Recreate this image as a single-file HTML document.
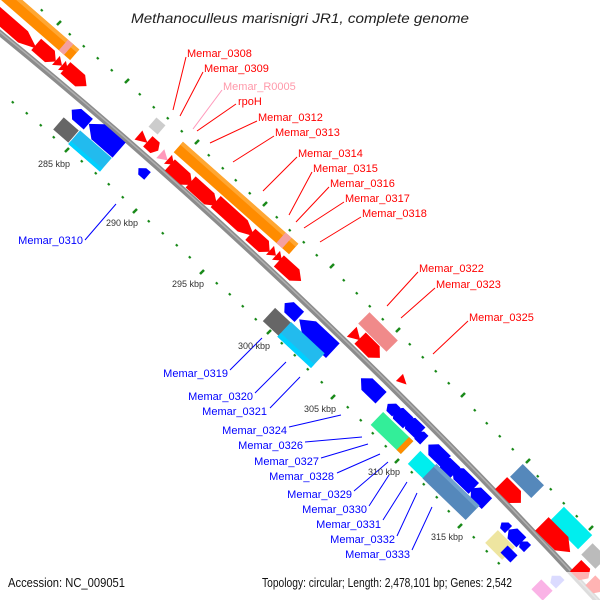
<!DOCTYPE html>
<html><head><meta charset="utf-8"><style>
html,body{margin:0;padding:0;background:#fff;}
svg{display:block;}
.lr{font-family:"Liberation Sans",sans-serif;font-size:11px;fill:#ff0000;}
.lb{font-family:"Liberation Sans",sans-serif;font-size:11px;fill:#0000ff;text-anchor:end;}
.tk{font-family:"Liberation Sans",sans-serif;font-size:9px;fill:#333;text-anchor:middle;}
</style></head><body>
<svg width="600" height="600" viewBox="0 0 600 600" xmlns="http://www.w3.org/2000/svg">
<defs>
<polygon id="a" points="-0.5,-0.5 0.2,-0.5 0.5,0 0.2,0.5 -0.5,0.5"/>
</defs>
<rect width="600" height="600" fill="#fff"/>

<!-- dotted tick rings -->
<g stroke="#1a8a1a" stroke-width="2.5" stroke-linecap="butt">
<path d="M41,11 l1.5,-1.5 M57,25 l4,-4 M69,35 l1.5,-1.5 M83,47 l1.5,-1.5 M97,59 l1.5,-1.5 M111,71 l1.5,-1.5 M125,83 l4,-4 M139,95 l1.5,-1.5 M153,108 l1.5,-1.5 M167,119 l1.5,-1.5 M181,132 l1.5,-1.5 M195,144 l4,-4 M208,156 l1.5,-1.5 M222,169 l1.5,-1.5 M235,181 l1.5,-1.5 M249,194 l1.5,-1.5 M263,206 l4,-4 M276,218 l1.5,-1.5 M289,231 l1.5,-1.5 M303,243 l1.5,-1.5 M316,256 l1.5,-1.5 M330,268 l4,-4 M343,281 l1.5,-1.5 M356,294 l1.5,-1.5 M369,307 l1.5,-1.5 M382,320 l1.5,-1.5 M396,332 l4,-4 M409,345 l1.5,-1.5 M422,358 l1.5,-1.5 M435,372 l1.5,-1.5 M448,384 l1.5,-1.5 M461,397 l4,-4 M474,411 l1.5,-1.5 M486,424 l1.5,-1.5 M499,437 l1.5,-1.5 M512,450 l1.5,-1.5 M526,463 l4,-4 M537,477 l1.5,-1.5 M550,490 l1.5,-1.5 M563,504 l1.5,-1.5 M576,517 l1.5,-1.5 M589,530 l4,-4"/>
<path d="M12,103 l1.5,-1.5 M26,114 l1.5,-1.5 M40,126 l1.5,-1.5 M53,138 l1.5,-1.5 M65,152 l4,-4 M81,162 l1.5,-1.5 M95,174 l1.5,-1.5 M108,185 l1.5,-1.5 M122,198 l1.5,-1.5 M133,213 l4,-4 M148,222 l1.5,-1.5 M162,234 l1.5,-1.5 M176,246 l1.5,-1.5 M189,258 l1.5,-1.5 M200,274 l4,-4 M216,284 l1.5,-1.5 M229,295 l1.5,-1.5 M242,307 l1.5,-1.5 M255,320 l1.5,-1.5 M267,334 l4,-4 M281,344 l1.5,-1.5 M294,356 l1.5,-1.5 M307,370 l1.5,-1.5 M321,383 l1.5,-1.5 M331,399 l4,-4 M347,408 l1.5,-1.5 M360,421 l1.5,-1.5 M372,434 l1.5,-1.5 M385,447 l1.5,-1.5 M395,463 l4,-4 M411,473 l1.5,-1.5 M423,485 l1.5,-1.5 M436,498 l1.5,-1.5 M448,512 l1.5,-1.5 M458,528 l4,-4 M473,538 l1.5,-1.5 M486,552 l1.5,-1.5 M498,564 l1.5,-1.5"/>
</g>

<!-- backbone -->
<path d="M-5,29 Q300,277 604,608" fill="none" stroke="#8c8c8c" stroke-width="6"/>
<path d="M-5,28 Q300,276 604,607" fill="none" stroke="#b0b0b0" stroke-width="1.5"/>

<!-- upper-left features -->
<g transform="translate(37,22) rotate(41)"><rect x="-50" y="-7" width="100" height="14" fill="#ff8c00"/><rect x="-50" y="-7" width="100" height="4" fill="#ffa733"/><rect x="35" y="-7" width="7" height="14" fill="#f4a0a0"/></g>
<g transform="translate(14,29) rotate(41)"><use href="#a" transform="scale(60,15)" fill="#f00"/></g>
<g transform="translate(46,53) rotate(41)"><use href="#a" transform="scale(26,15)" fill="#f00"/></g>
<g transform="translate(59,63) rotate(41)"><polygon points="-4,-6 4,0 -4,6" fill="#f00"/></g>
<g transform="translate(65,68) rotate(41)"><polygon points="-4,-6 4,0 -4,6" fill="#f00"/></g>
<g transform="translate(76,77) rotate(41)"><use href="#a" transform="scale(28,15)" fill="#f00"/></g>

<g transform="translate(80,117) rotate(41)"><use href="#a" transform="scale(-22,14)" fill="#00f"/></g>
<g transform="translate(66,130) rotate(41)"><rect x="-10" y="-8" width="20" height="16" fill="#666"/></g>
<g transform="translate(104,137) rotate(41)"><use href="#a" transform="scale(-40,20)" fill="#00f"/></g>
<g transform="translate(90,151) rotate(41)"><rect x="-21" y="-9" width="42" height="18" fill="#22bbee"/><rect x="-21" y="5" width="42" height="4" fill="#00d0ff"/></g>
<g transform="translate(143,172) rotate(41)"><polygon points="-6,0 0,-5 6,-5 6,5 -2,5" fill="#00f"/></g>

<g transform="translate(157,126) rotate(41)"><rect x="-6" y="-6" width="12" height="12" fill="#ccc"/></g>
<g transform="translate(143,139) rotate(41)"><polygon points="-6,-6 6,0 -6,6" fill="#f00"/></g>
<g transform="translate(153,146) rotate(42)"><use href="#a" transform="scale(14,14)" fill="#f00"/></g>
<g transform="translate(164,157) rotate(42)"><polygon points="-5,-6 5,0 -5,6" fill="#f9b"/></g>
<g transform="translate(171,162) rotate(42)"><polygon points="-4,-6 4,0 -4,6" fill="#f00"/></g>

<!-- middle upper features -->
<g transform="translate(236,198) rotate(41.5)"><rect x="-77" y="-7" width="154" height="14" fill="#ff8c00"/><rect x="-77" y="-7" width="154" height="4" fill="#ffa733"/><rect x="60" y="-7" width="8" height="14" fill="#f4a0a0"/></g>
<g transform="translate(181,175) rotate(42)"><use href="#a" transform="scale(30,15)" fill="#f00"/></g>
<g transform="translate(204,194) rotate(42)"><use href="#a" transform="scale(36,15)" fill="#f00"/></g>
<g transform="translate(235,219) rotate(42)"><use href="#a" transform="scale(52,15)" fill="#f00"/></g>
<g transform="translate(260,243) rotate(42)"><use href="#a" transform="scale(26,15)" fill="#f00"/></g>
<g transform="translate(273,253) rotate(42)"><polygon points="-4,-6 4,0 -4,6" fill="#f00"/></g>
<g transform="translate(279,258) rotate(42)"><polygon points="-4,-6 4,0 -4,6" fill="#f00"/></g>
<g transform="translate(290,271) rotate(42)"><use href="#a" transform="scale(30,15)" fill="#f00"/></g>

<!-- 300 kbp cluster -->
<g transform="translate(292,310) rotate(43)"><use href="#a" transform="scale(-20,14)" fill="#00f"/></g>
<g transform="translate(277,322) rotate(43)"><rect x="-11" y="-9" width="22" height="18" fill="#666"/></g>
<g transform="translate(316,335) rotate(43)"><use href="#a" transform="scale(-46,20)" fill="#00f"/></g>
<g transform="translate(301,345) rotate(43)"><rect x="-23" y="-10" width="46" height="20" fill="#22bbee"/><rect x="-23" y="5" width="46" height="5" fill="#00d0ff"/></g>

<g transform="translate(378,332) rotate(45)"><rect x="-20" y="-8" width="40" height="16" fill="#f08a8a"/></g>
<g transform="translate(356,336) rotate(45)"><polygon points="-6,-7 6,0 -6,7" fill="#f00"/></g>
<g transform="translate(370,348) rotate(45)"><use href="#a" transform="scale(28,16)" fill="#f00"/></g>
<g transform="translate(403,381) rotate(45)"><polygon points="-5,-5 5,0 -5,5" fill="#f00"/></g>
<g transform="translate(371,388) rotate(44)"><use href="#a" transform="scale(-28,16)" fill="#00f"/></g>

<!-- lower chain -->
<g transform="translate(392,408) rotate(44)"><polygon points="-6,0 0,-6 6,-6 6,6 -2,6" fill="#00f"/></g>
<g transform="translate(401,416) rotate(44)"><use href="#a" transform="scale(-20,15)" fill="#00f"/></g>
<g transform="translate(413,426) rotate(44)"><use href="#a" transform="scale(-20,15)" fill="#00f"/></g>
<g transform="translate(420,436) rotate(44)"><polygon points="-6,0 0,-6 6,-6 6,6 -2,6" fill="#00f"/></g>
<g transform="translate(437,453) rotate(44)"><use href="#a" transform="scale(-24,15)" fill="#00f"/></g>
<g transform="translate(448,466) rotate(44)"><use href="#a" transform="scale(-20,15)" fill="#00f"/></g>
<g transform="translate(463,478) rotate(44)"><use href="#a" transform="scale(-30,15)" fill="#00f"/></g>
<g transform="translate(479,496) rotate(44)"><use href="#a" transform="scale(-22,15)" fill="#00f"/></g>
<g transform="translate(392,433) rotate(44)"><rect x="-21" y="-9" width="42" height="18" fill="#33ee99"/><rect x="15" y="-9" width="6" height="18" fill="#ff8c00"/></g>
<g transform="translate(422,465) rotate(44)"><rect x="-11" y="-9" width="22" height="18" fill="#00eeee"/></g>
<g transform="translate(451,492) rotate(44)"><rect x="-30" y="-10" width="60" height="20" fill="#5588bb"/><rect x="-30" y="-10" width="60" height="4" fill="#6fa0cc"/></g>

<!-- right features -->
<g transform="translate(527,481) rotate(45)"><rect x="-15" y="-9" width="30" height="18" fill="#5588bb"/></g>
<g transform="translate(511,493) rotate(45)"><use href="#a" transform="scale(28,17)" fill="#f00"/></g>
<g transform="translate(571,528) rotate(45)"><rect x="-20" y="-10" width="40" height="20" fill="#00eeee"/></g>
<g transform="translate(556,538) rotate(45)"><use href="#a" transform="scale(40,19)" fill="#f00"/></g>
<g transform="translate(500,545) rotate(45)"><rect x="-12" y="-9" width="24" height="18" fill="#eee5a0"/></g>
<g transform="translate(505,526) rotate(45)"><polygon points="-5,0 0,-5 5,-5 5,5 -2,5" fill="#00f"/></g>
<g transform="translate(515,536) rotate(45)"><use href="#a" transform="scale(-18,14)" fill="#00f"/></g>
<g transform="translate(524,545) rotate(45)"><polygon points="-5,0 0,-5 5,-5 5,5 -2,5" fill="#00f"/></g>
<g transform="translate(509,554) rotate(45)"><rect x="-7" y="-5" width="14" height="10" fill="#00f"/></g>
<g transform="translate(594,556) rotate(45)"><rect x="-10" y="-8" width="20" height="16" fill="#bbb"/></g>
<g transform="translate(582,572) rotate(45)"><use href="#a" transform="scale(18,16)" fill="#f00"/></g>
<g transform="translate(596,586) rotate(45)"><use href="#a" transform="scale(16,14)" fill="#f00"/></g>
<g transform="translate(542,590) rotate(45)"><rect x="-8" y="-7" width="16" height="14" fill="#e0a"/></g>
<g transform="translate(556,580) rotate(45)"><polygon points="-6,0 0,-6 6,-6 6,6 -2,6" fill="#88f"/></g>

<!-- faded bottom strip -->
<rect x="0" y="572" width="600" height="28" fill="#fff" opacity="0.7"/>

<!-- label lines -->
<g stroke="#f00" stroke-width="1">
<path d="M186,57 L173,110 M203,72 L180,116 M257,121 L210,143 M274,136 L233,162 M297,157 L263,191 M312,172 L289,215 M329,187 L296,222 M344,202 L304,228 M361,217 L320,242 M418,272 L387,306 M435,288 L401,318 M468,321 L433,354 M236,104 L197,131"/>
</g>
<path d="M222,90 L193,129" stroke="#f9b" stroke-width="1"/>
<g stroke="#00f" stroke-width="1">
<path d="M85,240 L116,204 M230,370 L262,338 M255,393 L286,362 M270,408 L300,377 M289,427 L341,415 M305,442 L362,437 M321,458 L368,444 M337,473 L380,454 M354,491 L388,462 M369,506 L389,475 M383,520 L407,482 M397,536 L417,493 M412,550 L432,507"/>
</g>

<!-- labels -->
<text class="lr" x="187" y="57">Memar_0308</text>
<text class="lr" x="204" y="72">Memar_0309</text>
<text class="lr" x="223" y="90" style="fill:#f9a">Memar_R0005</text>
<text class="lr" x="238" y="105">rpoH</text>
<text class="lr" x="258" y="121">Memar_0312</text>
<text class="lr" x="275" y="136">Memar_0313</text>
<text class="lr" x="298" y="157">Memar_0314</text>
<text class="lr" x="313" y="172">Memar_0315</text>
<text class="lr" x="330" y="187">Memar_0316</text>
<text class="lr" x="345" y="202">Memar_0317</text>
<text class="lr" x="362" y="217">Memar_0318</text>
<text class="lr" x="419" y="272">Memar_0322</text>
<text class="lr" x="436" y="288">Memar_0323</text>
<text class="lr" x="469" y="321">Memar_0325</text>

<text class="lb" x="83" y="244">Memar_0310</text>
<text class="lb" x="228" y="377">Memar_0319</text>
<text class="lb" x="253" y="400">Memar_0320</text>
<text class="lb" x="267" y="415">Memar_0321</text>
<text class="lb" x="287" y="434">Memar_0324</text>
<text class="lb" x="303" y="449">Memar_0326</text>
<text class="lb" x="319" y="465">Memar_0327</text>
<text class="lb" x="334" y="480">Memar_0328</text>
<text class="lb" x="352" y="498">Memar_0329</text>
<text class="lb" x="367" y="513">Memar_0330</text>
<text class="lb" x="381" y="528">Memar_0331</text>
<text class="lb" x="395" y="543">Memar_0332</text>
<text class="lb" x="410" y="558">Memar_0333</text>

<text class="tk" x="54" y="167">285 kbp</text>
<text class="tk" x="122" y="226">290 kbp</text>
<text class="tk" x="188" y="287">295 kbp</text>
<text class="tk" x="254" y="349">300 kbp</text>
<text class="tk" x="320" y="412">305 kbp</text>
<text class="tk" x="384" y="475">310 kbp</text>
<text class="tk" x="447" y="540">315 kbp</text>

<text x="300" y="23" text-anchor="middle" font-family="Liberation Sans, sans-serif" font-size="14" font-style="italic" fill="#222" textLength="338" lengthAdjust="spacingAndGlyphs">Methanoculleus marisnigri JR1, complete genome</text>
<text x="8" y="587" font-family="Liberation Sans, sans-serif" font-size="13" fill="#111" textLength="117" lengthAdjust="spacingAndGlyphs">Accession: NC_009051</text>
<text x="262" y="587" font-family="Liberation Sans, sans-serif" font-size="13" fill="#111" textLength="250" lengthAdjust="spacingAndGlyphs">Topology: circular; Length: 2,478,101 bp; Genes: 2,542</text>
</svg>
</body></html>
